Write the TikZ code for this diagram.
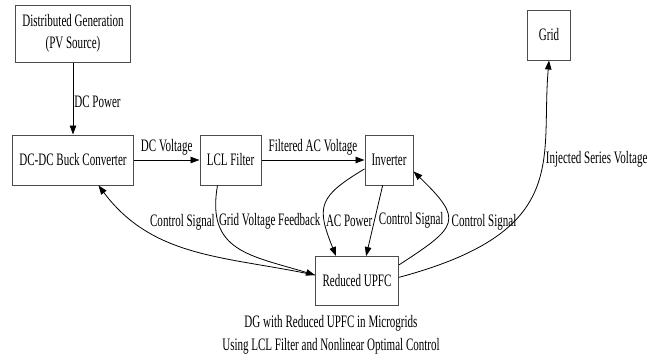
\documentclass[tikz,border=0pt]{standalone}
\usepackage{fontspec}
\setmainfont{Liberation Serif}[FakeStretch=0.63]
\usetikzlibrary{arrows.meta}

\tikzset{
  blk/.style={draw=black!70, line width=1pt, fill=white, inner sep=1pt, align=center},
  lbl/.style={inner sep=1pt},
}

\begin{document}
\begin{tikzpicture}[x=1pt, y=1pt, font=\fontsize{17.5}{22.5}\selectfont,
  >={Triangle[length=9pt,width=6.5pt]}, line width=0.8pt]
 \useasboundingbox (0,0) rectangle (649,360);
 \node[blk, minimum width=115pt, minimum height=57pt] (dg)   at (73,326.5)  {Distributed Generation\\(PV Source)};
 \node[blk, minimum width=121pt, minimum height=50pt] (buck) at (73,200)    {DC-DC Buck Converter};
 \node[blk, minimum width=61pt,  minimum height=50pt] (lcl)  at (230.5,200) {LCL Filter};
 \node[blk, minimum width=48pt,  minimum height=50pt] (inv)  at (389,200)   {Inverter};
 \node[blk, minimum width=43pt,  minimum height=50pt] (grid) at (549,325)   {Grid};
 \node[blk, minimum width=83pt,  minimum height=49pt] (upfc) at (357,79)    {Reduced UPFC};
 \node[align=center] (cap) at (331,25) {DG with Reduced UPFC in Microgrids\\Using LCL Filter and Nonlinear Optimal Control};
 \path (dg) edge [->] node[lbl, right, pos=0.55] {DC Power} (buck);
 \path (buck) edge [->] node[lbl, above=3pt] {DC Voltage} (lcl);
 \path (lcl) edge [->] node[lbl, above=3pt] {Filtered AC Voltage} (inv);
 \path (upfc.172) edge [out=168, in=-53, ->] node[lbl, pos=0.72, anchor=south west] {Control Signal} (buck.-45);
 \path (lcl.-117) edge [out=-100, in=163, looseness=1.3, ->] node[lbl, pos=0.22, anchor=west] {Grid Voltage Feedback} (upfc.172);
 \path (inv.200) edge [out=211, in=112, looseness=1.5, ->] node[lbl, pos=0.7, anchor=west] {AC Power} (upfc.130);
 \path (inv.-104) edge [->] node[lbl, pos=0.49, anchor=west, xshift=3pt] {Control Signal} (upfc.70);
 \path (upfc.21) edge [out=33, in=-44, looseness=1.9, ->] node[lbl, pos=0.5, anchor=west, xshift=3pt] {Control Signal} (inv.-25);
 \path (upfc.5) edge [out=15, in=-95, out looseness=1.74, in looseness=0.97, ->] node[lbl, pos=0.63, anchor=west, xshift=1pt] {Injected Series Voltage} (grid.south);
\end{tikzpicture}
\end{document}
